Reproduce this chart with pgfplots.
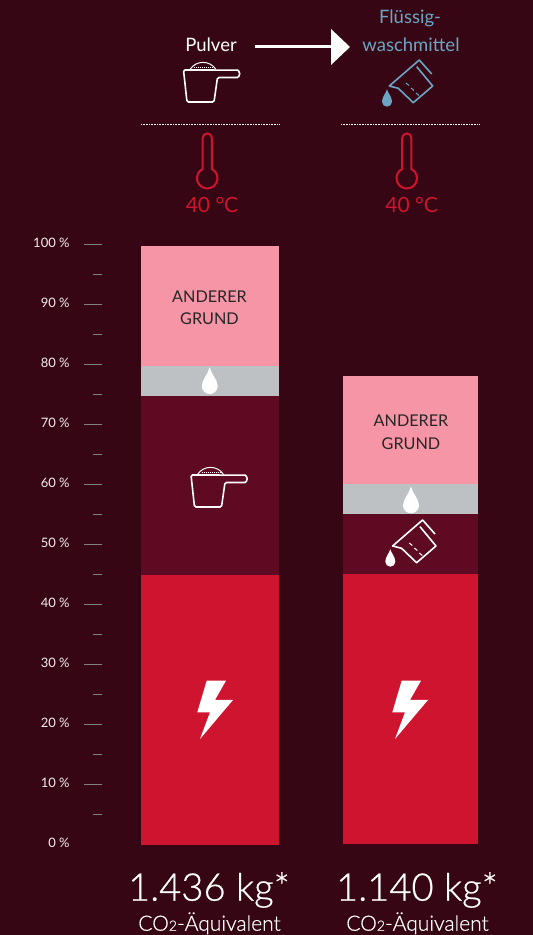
\documentclass[border=0pt]{standalone}
\usepackage{fontspec}
\setmainfont{Lato}
\newfontfamily\duenn[RawFeature={embolden=0.6}]{Lato Light}
\usepackage{pgfplots}
\pgfplotsset{compat=1.18}
\definecolor{bg}{HTML}{360614}
\definecolor{rosa}{HTML}{F595A5}
\definecolor{grau}{HTML}{BEC1C4}
\definecolor{dunkel}{HTML}{5E0A23}
\definecolor{rot}{HTML}{CE142E}
\definecolor{blau}{HTML}{6CA6C4}
\definecolor{tick}{HTML}{F2ECEE}
\pgfplotsset{
  stapel/.style={
    scale only axis, width=431.3pt,
    xmin=101.7, xmax=533,
    ybar stacked, bar shift=0pt,
    axis line style={draw=none},
    xtick=\empty, clip=false,
  },
}
% icons, coordinates are reference pixels, y runs downwards
\newcommand{\scoop}[1]{%
  \draw[white, line width=1.6pt, rounded corners=1.5pt, #1]
    (183.5,70) -- (187,102) -- (214,102) -- (217.5,77.5) -- (236,77.5)
    arc[start angle=90, end angle=-90, radius=3.7] -- cycle;
  \draw[white, line width=1pt, #1] (190,69.5) .. controls (196,60) and (210,60) .. (216,69.5);
  \draw[white, line width=1pt, dash pattern=on 1pt off 1pt, #1] (194,67.5) -- (213,67.5);
}
\newcommand{\beaker}[2]{%
  \draw[#1, line width=1.6pt, line join=round, #2]
    (431.7,74) -- (419.3,60) -- (389.3,86) -- (398.3,88.3) -- (413.3,102.7) -- (432.7,86) -- (416.7,66.7);
  \draw[#1, line width=1pt, #2] (406,83) -- (409,85.5) (411,88) -- (414,90.5) (416,93) -- (419,95.5);
  \fill[#1, #2] (387,89.3) .. controls (386,93) and (382,97) .. (382,101.7)
    arc[start angle=180, end angle=0, radius=5] .. controls (392,97) and (388,93) .. (387,89.3) -- cycle;
}
\newcommand{\drop}[2]{%
  \fill[white] (#1,#2-18.7) .. controls (#1-1.5,#2-12) and (#1-8,#2-6) .. (#1-8,#2)
    arc[start angle=180, end angle=0, radius=8] .. controls (#1+8,#2-6) and (#1+1.5,#2-12) .. (#1,#2-18.7) -- cycle;
}
\newcommand{\blitz}[1]{%
  \fill[white, shift={(#1,0)}] (206.7,680.7) -- (226,680.7) -- (215,700) -- (233,700) -- (200,739)
    -- (210,712.3) -- (197.3,712.3) -- cycle;
}
\newcommand{\thermo}[1]{%
  \draw[rot, line width=2pt, shift={(#1,0)}] (202.7,169) -- (202.7,138) arc[start angle=180, end angle=360, radius=4.6]
    -- (211.9,169) arc[start angle=-63, end angle=243, radius=10.3] -- cycle;
}
\begin{document}
\begin{tikzpicture}
\begin{scope}[shift={(-101.7pt,935pt)}, x=1pt, y=-1pt]
  \path[use as bounding box, fill=bg] (0,0) rectangle (533,935);
\end{scope}

\begin{axis}[
  stapel,
  height=935pt,
  ymin=-15.05, ymax=140.78,
  bar width=138pt,
  ytick={10,20,...,100},
  minor ytick={5,15,...,95},
  extra y ticks={0},
  extra y tick style={major tick style={draw=none}},
  tick align=outside,
  ytick pos=left,
  major tick length=17.4pt,
  minor tick length=8.7pt,
  tick style={tick, line width=1.2pt},
  yticklabel={\pgfmathprintnumber{\tick}~\%},
  yticklabel style={inner sep=0pt, yshift=1.7pt, font=\fontsize{13}{14}\selectfont, text=tick},
  yticklabel shift=14.5pt,
  /pgf/number format/assume math mode=true,
]
\addplot[fill=rot, draw=none] coordinates {(210,45)};
\addplot[fill=dunkel, draw=none] coordinates {(210,29.8)};
\addplot[fill=grau, draw=none] coordinates {(210,5)};
\addplot[fill=rosa, draw=none] coordinates {(210,20)};
\end{axis}

\begin{axis}[
  stapel,
  yshift=1pt,
  height=934pt,
  ymin=-15.05, ymax=140.62,
  bar width=135pt,
  ytick=\empty,
]
\addplot[fill=rot, draw=none] coordinates {(410.5,45)};
\addplot[fill=dunkel, draw=none] coordinates {(410.5,10)};
\addplot[fill=grau, draw=none] coordinates {(410.5,5)};
\addplot[fill=rosa, draw=none] coordinates {(410.5,18)};
\end{axis}

\begin{scope}[shift={(-101.7pt,935pt)}, x=1pt, y=-1pt]
  \tikzset{every node/.style={anchor=base, inner sep=0pt, align=center}}
  % header
  \node[white, font=\fontsize{18.5}{20}\selectfont] at (211,52) {Pulver};
  \node[blau, font=\fontsize{18.5}{20}\selectfont] at (410,24) {Flüssig-};
  \node[blau, font=\fontsize{18.5}{20}\selectfont] at (411,52) {waschmittel};
  \draw[white, line width=3pt] (255,47) -- (332,47);
  \fill[white] (331,29) -- (350,47) -- (331,65) -- cycle;
  \scoop{}
  \beaker{blau}{}
  \draw[white, line width=.7pt, dash pattern=on .8pt off .8pt] (141,124.5) -- (279,124.5) (341,124.5) -- (479,124.5);
  \thermo{0}
  \thermo{199.5}
  \node[rot, font=\fontsize{21}{24}\selectfont] at (212,213) {40 °C};
  \node[rot, font=\fontsize{21}{24}\selectfont] at (411.7,213) {40 °C};
  % bar contents
  \node[text=black!85, font=\fontsize{16.2}{18}\selectfont] at (209.5,303) {ANDERER};
  \node[text=black!85, font=\fontsize{16.2}{18}\selectfont] at (209.5,325) {GRUND};
  \node[text=black!85, font=\fontsize{16.2}{18}\selectfont] at (411,426.5) {ANDERER};
  \node[text=black!85, font=\fontsize{16.2}{18}\selectfont] at (411,449.5) {GRUND};
  \drop{209.7}{386}
  \drop{411}{505.3}
  \scoop{shift={(7.5,405)}}
  \beaker{white}{shift={(3.3,460)}}
  \blitz{0}
  \blitz{195}
  % totals
  \node[white, font=\duenn\fontsize{38.2}{42}\selectfont] at (209,900.7) {1.436 kg*};
  \node[white, font=\duenn\fontsize{38.2}{42}\selectfont] at (417,900.7) {1.140 kg*};
  \node[white, font=\duenn\fontsize{21}{24}\selectfont] at (209.5,930.7) {CO{\fontsize{14}{16}\selectfont 2}-Äquivalent};
  \node[white, font=\duenn\fontsize{21}{24}\selectfont] at (417.5,930.7) {CO{\fontsize{14}{16}\selectfont 2}-Äquivalent};
\end{scope}
\end{tikzpicture}
\end{document}
